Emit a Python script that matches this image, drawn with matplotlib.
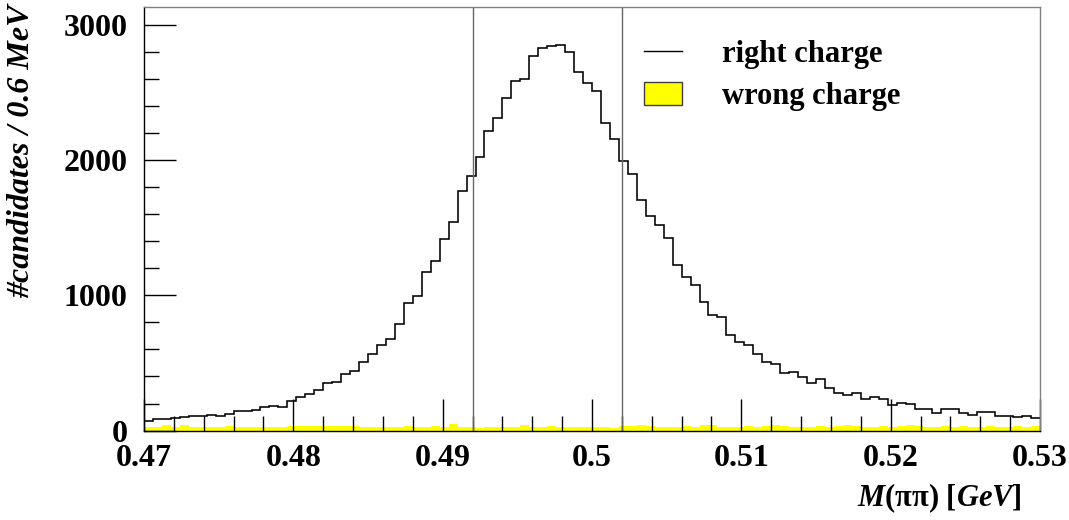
import numpy as np
import matplotlib as mpl
mpl.use('Agg')
import matplotlib.pyplot as plt
from matplotlib.ticker import MultipleLocator
from matplotlib.patches import Patch
from matplotlib.lines import Line2D

mpl.rcParams['font.family'] = ['Liberation Serif', 'DejaVu Serif']
mpl.rcParams['font.weight'] = 'bold'
mpl.rcParams['mathtext.fontset'] = 'custom'
mpl.rcParams['mathtext.it'] = 'Liberation Serif:italic:bold'
mpl.rcParams['mathtext.rm'] = 'Liberation Serif:bold'

# 100 bins of 0.6 MeV between 0.47 and 0.53 GeV
edges = np.linspace(0.47, 0.53, 101)

right_charge = [
    71, 83, 83, 95, 100, 110, 110, 115, 108, 120,
    147, 147, 152, 177, 184, 174, 219, 248, 268, 298,
    354, 359, 421, 443, 507, 568, 630, 679, 790, 943,
    997, 1170, 1256, 1414, 1540, 1773, 1884, 2022, 2217, 2308,
    2458, 2586, 2599, 2769, 2825, 2840, 2852, 2800, 2653, 2567,
    2512, 2273, 2157, 1995, 1894, 1703, 1584, 1517, 1423, 1222,
    1135, 1076, 953, 857, 842, 704, 653, 630, 564, 505,
    494, 423, 430, 395, 353, 378, 312, 279, 264, 275,
    234, 250, 230, 192, 202, 195, 160, 160, 130, 160,
    160, 130, 114, 134, 134, 106, 110, 103, 111, 95,
]

wrong_charge = [
    29, 30, 39, 27, 44, 27, 27, 27, 29, 34,
    24, 24, 24, 24, 24, 24, 32, 34, 34, 34,
    34, 34, 34, 32, 29, 29, 29, 29, 29, 34,
    27, 27, 34, 27, 49, 29, 29, 19, 24, 24,
    24, 24, 39, 24, 24, 36, 24, 29, 29, 27,
    29, 24, 19, 32, 34, 44, 34, 29, 29, 27,
    32, 29, 44, 40, 29, 27, 29, 32, 29, 32,
    40, 36, 29, 27, 29, 32, 29, 34, 39, 32,
    27, 29, 32, 29, 32, 39, 36, 29, 27, 32,
    29, 32, 27, 29, 32, 27, 29, 32, 29, 34,
]

cuts = [0.492, 0.502]

fig = plt.figure(figsize=(10.69, 5.20), dpi=100)
ax = fig.add_axes([144/1069, 1 - 430.6/520, 896/1069, 423.6/520])

ax.stairs(wrong_charge, edges, fill=True, color='#ffff00', baseline=0)
ax.stairs(right_charge, edges, color='black', linewidth=1.15, baseline=None)
for c in cuts:
    ax.axvline(c, color='#666666', linewidth=1.0)

ax.set_xlim(0.47, 0.53)
ax.set_ylim(0, 3130)

for s in ['top', 'right']:
    ax.spines[s].set_color('#808080')
for s in ax.spines.values():
    s.set_linewidth(1.0)
ax.spines['left'].set_color('black')
ax.spines['bottom'].set_color('black')

ax.xaxis.set_major_locator(MultipleLocator(0.01))
ax.xaxis.set_minor_locator(MultipleLocator(0.002))
ax.yaxis.set_major_locator(MultipleLocator(1000))
ax.yaxis.set_minor_locator(MultipleLocator(200))
ax.xaxis.set_major_formatter(mpl.ticker.FuncFormatter(lambda v, p: ('%g' % round(v, 3))))
ax.tick_params(which='major', direction='in', length=23, width=1.0, labelsize=23)
ax.tick_params(which='minor', direction='in', length=11, width=1.0)
ax.tick_params(axis='x', which='major', pad=10)
ax.tick_params(axis='y', which='major', pad=12)

handles = [Line2D([], [], color='black', linewidth=1.0),
           Patch(facecolor='#ffff00', edgecolor='#404040', linewidth=1.0)]
ax.legend(handles, ['right charge', 'wrong charge'], loc='upper left',
          bbox_to_anchor=(0.558, 0.923), frameon=False, fontsize=22,
          borderpad=0, borderaxespad=0, handlelength=1.25, handleheight=0.8,
          handletextpad=1.3, labelspacing=0.43)

fig.text(22/1069, 1 - 4/520, '#candidates / 0.6 MeV', rotation=90, ha='center', va='top',
         fontsize=23, fontstyle='italic', fontweight='bold')
fig.text(1022/1069, 1 - 498/520, r'$M$(ππ) $[GeV]$', ha='right', va='center',
         fontsize=22, fontweight='bold')

plt.savefig('out.png', dpi=100)
